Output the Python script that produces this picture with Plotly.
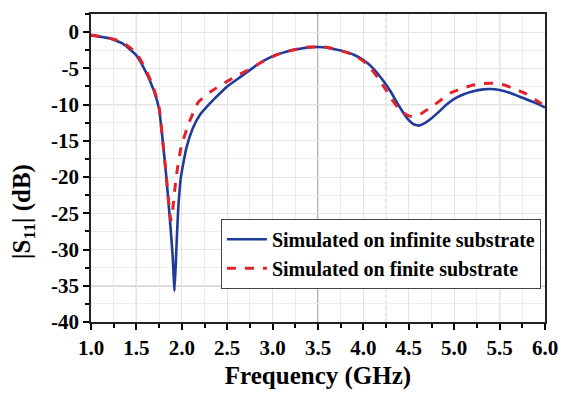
import plotly.graph_objects as go

# Frequency (GHz) and |S11| (dB)
freq_inf = [1.0, 1.2, 1.35, 1.5, 1.6, 1.69, 1.75, 1.79, 1.83, 1.87, 1.9, 1.92, 1.94, 1.96, 1.99,
            2.05, 2.12, 2.2, 2.29, 2.4, 2.5, 2.61, 2.72, 2.83, 2.94, 3.05, 3.15, 3.3, 3.4, 3.5,
            3.6, 3.75, 3.9, 4.0, 4.1, 4.2, 4.3, 4.38, 4.49, 4.55, 4.61, 4.67, 4.74, 4.83, 4.92,
            5.0, 5.1, 5.2, 5.32, 5.4, 5.5, 5.62, 5.75, 5.88, 6.0]
s11_inf = [-0.45, -0.85, -1.6, -3.2, -5.4, -8.0, -10.6, -15.0, -20.0, -26.0, -31.0, -35.7, -30.0, -24.5, -20.0,
           -16.0, -13.3, -11.4, -10.1, -8.7, -7.5, -6.5, -5.5, -4.5, -3.7, -3.1, -2.7, -2.3, -2.1, -2.05,
           -2.15, -2.55, -3.15, -3.85, -4.9, -6.4, -8.2, -9.95, -12.0, -12.7, -12.9, -12.6, -12.0, -11.0, -9.95,
           -9.2, -8.6, -8.2, -7.9, -7.85, -8.0, -8.4, -9.05, -9.7, -10.4]

freq_fin = [1.0, 1.2, 1.35, 1.5, 1.6, 1.69, 1.75, 1.79, 1.83, 1.86, 1.88, 1.9, 1.92, 1.95, 1.99,
            2.07, 2.18, 2.32, 2.5, 2.61, 2.72, 2.83, 2.94, 3.05, 3.15, 3.3, 3.4, 3.5, 3.6, 3.75,
            3.9, 4.0, 4.08, 4.16, 4.24, 4.31, 4.38, 4.45, 4.51, 4.56, 4.63, 4.74, 4.85, 4.96, 5.08,
            5.21, 5.32, 5.43, 5.55, 5.68, 5.79, 5.89, 6.0]
s11_fin = [-0.4, -0.8, -1.4, -2.9, -5.1, -7.7, -10.4, -15.0, -20.0, -24.0, -26.0, -24.5, -22.0, -19.0, -16.0,
           -12.8, -9.7, -8.2, -6.8, -6.0, -5.3, -4.5, -3.7, -3.1, -2.7, -2.25, -2.05, -2.0, -2.1, -2.55,
           -3.2, -4.0, -5.0, -6.3, -7.8, -9.2, -10.4, -11.2, -11.6, -11.7, -11.3, -10.4, -9.4, -8.4, -7.8,
           -7.3, -7.1, -7.05, -7.3, -7.9, -8.5, -9.3, -10.2]

series_names = ["Simulated on infinite substrate", "Simulated on finite substrate"]
x_ticks = [1.0, 1.5, 2.0, 2.5, 3.0, 3.5, 4.0, 4.5, 5.0, 5.5, 6.0]
x_tick_labels = ["1.0", "1.5", "2.0", "2.5", "3.0", "3.5", "4.0", "4.5", "5.0", "5.5", "6.0"]
y_ticks = [0, -5, -10, -15, -20, -25, -30, -35, -40]
y_tick_labels = ["0", "-5", "-10", "-15", "-20", "-25", "-30", "-35", "-40"]

# background reference lines seen in the picture
ref_x_solid = [1.5, 3.5, 5.5]
ref_y_solid = [-10, -35]
ref_x_dotted = [2.25, 4.25, 4.75]

FONT = "Liberation Serif"

fig = go.Figure()
fig.add_trace(go.Scatter(x=freq_inf, y=s11_inf, mode="lines", name="<b>" + series_names[0] + "</b>",
                         line=dict(color="#1f3a99", width=2.6, shape="spline", smoothing=0.4)))
fig.add_trace(go.Scatter(x=freq_fin, y=s11_fin, mode="lines", name="<b>" + series_names[1] + "</b>",
                         line=dict(color="#e3222b", width=3, dash="dash", shape="spline", smoothing=0.4)))

for xv in ref_x_solid:
    fig.add_shape(type="line", xref="x", yref="paper", x0=xv, x1=xv, y0=0, y1=1,
                  line=dict(color="#666666", width=1), layer="below")
for yv in ref_y_solid:
    fig.add_shape(type="line", xref="paper", yref="y", x0=0, x1=1, y0=yv, y1=yv,
                  line=dict(color="#555555", width=1), layer="below")
for xv in ref_x_dotted:
    fig.add_shape(type="line", xref="x", yref="paper", x0=xv, x1=xv, y0=0, y1=1,
                  line=dict(color="#9fb3a0", width=1, dash="dot"), layer="below")

fig.update_layout(
    width=570, height=397,
    margin=dict(l=91, r=17, t=12, b=67),
    paper_bgcolor="white", plot_bgcolor="white",
    font=dict(family=FONT, color="black"),
    showlegend=True,
    legend=dict(x=0.991, y=0.335, xanchor="right", yanchor="top",
                bgcolor="white", bordercolor="#444444", borderwidth=1,
                font=dict(family=FONT, size=20, color="black"),
                tracegroupgap=0, itemwidth=40),
)

fig.update_xaxes(
    range=[1.0, 6.0], tickvals=x_ticks, ticktext=["<b>" + t + "</b>" for t in x_tick_labels],
    tickfont=dict(family=FONT, size=21, color="black", weight="bold"),
    ticks="outside", ticklen=6, tickwidth=1.5, tickcolor="black",
    minor=dict(dtick=0.25, ticks="outside", ticklen=4, tickcolor="black", showgrid=True,
               gridcolor="#ececec", gridwidth=1),
    showgrid=True, gridcolor="#e4e4e4", gridwidth=1,
    showline=True, linecolor="#222222", linewidth=1.5, mirror=True,
    zeroline=False,
    title=dict(text="<b>Frequency (GHz)</b>", font=dict(family=FONT, size=25, color="black"),
               standoff=8),
)
fig.update_yaxes(
    range=[-40, 2.5], tickvals=y_ticks, ticktext=["<b>" + t + "</b>" for t in y_tick_labels],
    tickfont=dict(family=FONT, size=21, color="black", weight="bold"),
    ticks="outside", ticklen=6, tickwidth=1.5, tickcolor="black",
    minor=dict(dtick=2.5, ticks="outside", ticklen=4, tickcolor="black", showgrid=True,
               gridcolor="#ececec", gridwidth=1),
    showgrid=True, gridcolor="#e4e4e4", gridwidth=1,
    showline=True, linecolor="#222222", linewidth=1.5, mirror=True,
    zeroline=False,
)

fig.add_annotation(text="<b>|S<sub>11</sub>| (dB)</b>", xref="paper", yref="paper",
                   x=-0.15, y=0.36, xanchor="center", yanchor="middle", textangle=-90,
                   showarrow=False, font=dict(family=FONT, size=25, color="black"))

fig.write_html("out.html")
